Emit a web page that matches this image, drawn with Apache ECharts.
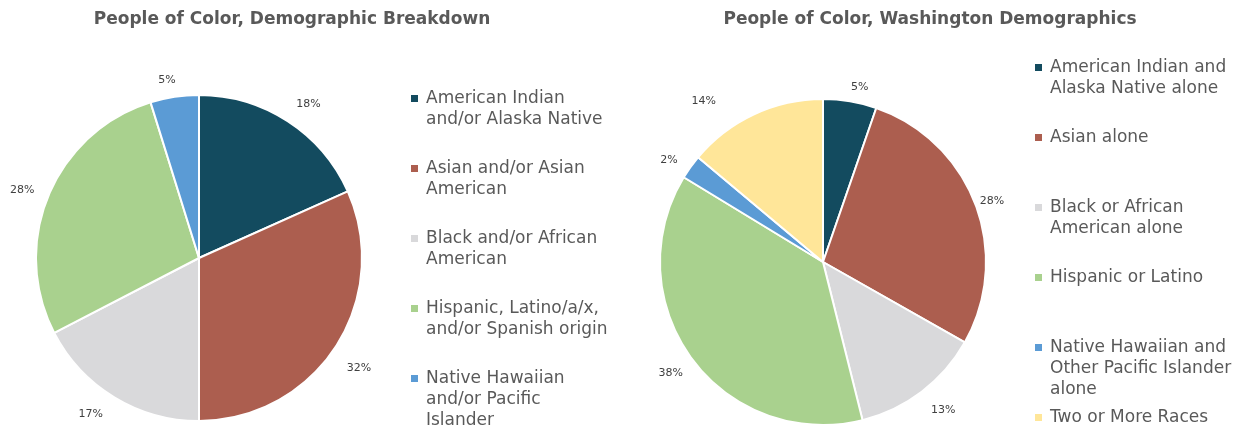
<!DOCTYPE html>
<html>
<head>
<meta charset="utf-8">
<script src="https://cdn.jsdelivr.net/npm/echarts@6/dist/echarts.min.js"></script>
<style>
html,body{margin:0;padding:0;background:#fff;}
#c{width:1239px;height:429px;}
</style>
</head>
<body>
<div id="c"></div>
<script>
const leftTitle = 'People of Color, Demographic Breakdown';
const rightTitle = 'People of Color, Washington Demographics';

const leftCategories = [
  'American Indian\nand/or Alaska Native',
  'Asian and/or Asian\nAmerican',
  'Black and/or African\nAmerican',
  'Hispanic, Latino/a/x,\nand/or Spanish origin',
  'Native Hawaiian\nand/or Pacific\nIslander'
];
const leftValues = [18.3, 31.7, 17.4, 27.8, 4.8];

const rightCategories = [
  'American Indian and\nAlaska Native alone',
  'Asian alone',
  'Black or African\nAmerican alone',
  'Hispanic or Latino',
  'Native Hawaiian and\nOther Pacific Islander\nalone',
  'Two or More Races'
];
const rightValues = [5.3, 27.9, 12.9, 37.6, 2.4, 13.9];

const colors = ['#134B5F', '#AC5E4F', '#D9D9DB', '#A9D18E', '#5B9BD5', '#FFE699'];

// small label nudges (px) to mimic the original "best fit" label placement
const leftLabelNudge = [[-3, -7], [-4, 15], [0, 7], [2, 0], [8, -5]];
const rightLabelNudge = [[-6, -2], [-12, 1], [-3, 9], [6, 7], [2, 0], [-28, -2]];

const FONT = 'DejaVu Sans';
const TEXT = '#595959';

function makeRich() {
  const rich = {
    ind: { width: 15, lineHeight: 21 },
    t: { fontFamily: FONT, fontSize: 17, color: TEXT, lineHeight: 21 }
  };
  colors.forEach((c, i) => {
    rich['c' + i] = { width: 7, height: 7, backgroundColor: c, lineHeight: 21 };
    rich['g' + i] = { width: 8, lineHeight: 21 };
  });
  return rich;
}

function legendFormatter(cats) {
  return function (name) {
    const idx = cats.indexOf(name);
    const lines = name.split('\n');
    return lines.map((ln, k) => k === 0
      ? '{c' + idx + '|}{g' + idx + '|}{t|' + ln + '}'
      : '{ind|}{t|' + ln + '}').join('\n');
  };
}

function makeLegend(cats, left, top) {
  return {
    orient: 'vertical',
    left: left,
    top: top,
    height: 420,
    itemWidth: 0,
    itemHeight: 0,
    itemGap: 7,
    selectedMode: false,
    itemStyle: { opacity: 0 },
    data: cats.map((n) => ({ name: n })),
    formatter: legendFormatter(cats),
    textStyle: {
      fontFamily: FONT, fontSize: 17, color: TEXT, lineHeight: 21,
      height: 63, rich: makeRich()
    }
  };
}

function makePie(cats, vals, center, nudges) {
  return {
    type: 'pie',
    center: center,
    radius: 163,
    startAngle: 90,
    clockwise: true,
    avoidLabelOverlap: false,
    legendHoverLink: false,
    itemStyle: { borderColor: '#ffffff', borderWidth: 2 },
    label: {
      show: true,
      position: 'outside',
      formatter: p => Math.round(p.value) + '%',
      fontFamily: FONT,
      fontSize: 11,
      color: '#404040'
    },
    labelLine: { show: false, length: 12, length2: 0 },
    emphasis: { disabled: true },
    data: cats.map((n, i) => ({
      name: n, value: vals[i],
      itemStyle: { color: colors[i] },
      label: { offset: nudges[i] }
    }))
  };
}

const chart = echarts.init(document.getElementById('c'), null, { renderer: 'canvas' });
chart.setOption({
  animation: false,
  backgroundColor: '#ffffff',
  title: [
    { text: leftTitle, left: 287, top: 6, textAlign: 'center',
      textStyle: { fontFamily: FONT, fontSize: 17, fontWeight: 'bold', color: TEXT } },
    { text: rightTitle, left: 925, top: 6, textAlign: 'center',
      textStyle: { fontFamily: FONT, fontSize: 17, fontWeight: 'bold', color: TEXT } }
  ],
  legend: [
    makeLegend(leftCategories, 400, 83),
    makeLegend(rightCategories, 1024, 52)
  ],
  series: [
    makePie(leftCategories, leftValues, [199, 258], leftLabelNudge),
    makePie(rightCategories, rightValues, [823, 262], rightLabelNudge)
  ]
});
</script>
</body>
</html>
